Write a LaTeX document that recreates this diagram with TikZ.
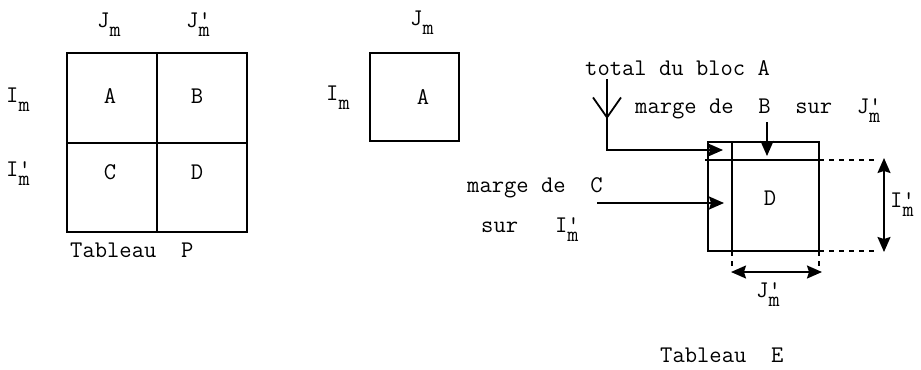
\documentclass[tikz,border=0pt]{standalone}
\usepackage{fontspec}
\usetikzlibrary{arrows.meta,decorations.markings}
\newcommand\Mlbl[2]{#1\rlap{#2}\raisebox{-0.40em}{\scalebox{0.9}{m}}}
\begin{document}
\begin{tikzpicture}[x=1bp,y=-1bp,
  every node/.style={font=\fontsize{24}{28}\selectfont\ttfamily, inner sep=0pt},
  lbl/.style={anchor=base west},
  box/.style={line width=1.8bp},
  arr/.style={line width=1.8bp, -{Stealth[length=15bp,width=13bp,inset=2bp]}},
  darr/.style={line width=1.6bp, {Stealth[length=15bp,width=13bp,inset=2bp]}-{Stealth[length=15bp,width=13bp,inset=2bp]}},
  guide/.style={line width=1.4bp, dash pattern=on 5bp off 5bp},
  vmark/.style={postaction={decorate}, decoration={markings, mark=at position 40bp with {\arrow{Straight Barb[length=20bp,width=28bp,line width=1.8bp]}}}}]
\useasboundingbox (0,0) rectangle (921,369);

% ---------- Tableau P ----------
\draw[box] (67,53) rectangle (247,232);
\draw[box] (157,53) -- (157,232);
\draw[box] (67,143) -- (247,143);
\node (pA) at (110,96) {A};
\node (pB) at (197,96) {B};
\node (pC) at (110,172) {C};
\node (pD) at (197,172) {D};
\node[lbl] (pJ) at (97,27) {\Mlbl{J}{}};
\node[lbl] (pJp) at (186,27) {\Mlbl{J}{'}};
\node[lbl] (pI) at (6,102) {\Mlbl{I}{}};
\node[lbl] (pIp) at (6,176) {\Mlbl{I}{'}};
\node[lbl] (pT) at (70,257) {Tableau~~P};

% ---------- bloc A ----------
\draw[box] (370,53) rectangle (459,141);
\node (mA) at (423,97) {A};
\node[lbl] (mJ) at (410,25) {\Mlbl{J}{}};
\node[lbl] (mI) at (326,100) {\Mlbl{I}{}};

% ---------- Tableau E ----------
\draw[box] (708,142) rectangle (819,251);
\draw[box] (732,142) -- (732,251);
\draw[box] (705,160) -- (819,160);
\node (eD) at (770,198) {D};

\node[lbl] (tot) at (585,75) {total du bloc A};
\node[lbl] (mB) at (635,113) {marge de~~B~~sur~~\Mlbl{J}{'}};
\node[lbl] (mC) at (467,192) {marge de~~C};
\node[lbl] (sI) at (481,232) {sur~~~\Mlbl{I}{'}};
\node[lbl] (eI) at (890,207) {\Mlbl{I}{'}};
\node[lbl] (eJ) at (756,297) {\Mlbl{J}{'}};
\node[lbl] (eT) at (660,362) {Tableau~~E};

\coordinate (t0) at (607,79);
\coordinate (t1) at (607,150);
\coordinate (t2) at (723,150);
\draw[arr,vmark] (t0) -- (t1) -- (t2);

\coordinate (b0) at (767,122);
\coordinate (b1) at (767,156);
\draw[arr] (b0) -- (b1);

\coordinate (c0) at (597,203);
\coordinate (c1) at (724,203);
\draw[arr] (c0) -- (c1);

\coordinate (g1) at (876,160);
\coordinate (g2) at (876,251);
\coordinate (g3) at (732,266);
\coordinate (g4) at (819,266);
\draw[guide] (819,160) -- (g1);
\draw[guide] (819,251) -- (g2);
\draw[guide] (732,251) -- (g3);
\draw[guide] (819,251) -- (g4);

\coordinate (i0) at (884,158);
\coordinate (i1) at (884,252);
\draw[darr] (i0) -- (i1);
\coordinate (j0) at (731,272);
\coordinate (j1) at (822,272);
\draw[darr] (j0) -- (j1);
\end{tikzpicture}
\end{document}
